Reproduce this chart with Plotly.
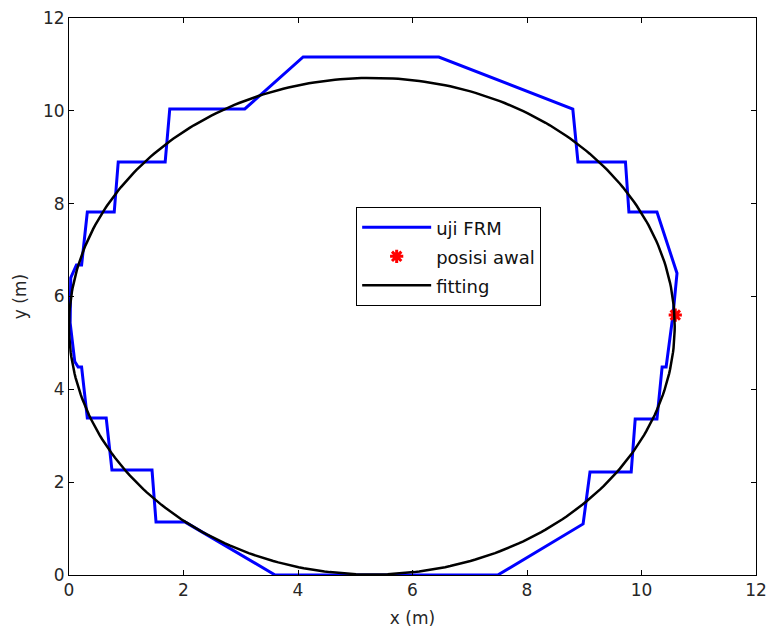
import numpy as np
import plotly.graph_objects as go

# uji FRM path (blue), counter-clockwise from the start point
frm_x = [10.55, 10.62, 10.27, 9.78, 9.72, 8.89, 8.80, 6.46, 4.09, 3.07, 1.76, 1.68,
         0.86, 0.79, 0.32, 0.22, 0.13, 0.03, 0.02, 0.10, 0.16, 0.22, 0.32, 0.65, 0.75,
         1.45, 1.52, 2.03, 3.60, 7.49, 8.98, 9.10, 9.82, 9.89, 10.27, 10.36, 10.43,
         10.50, 10.55]
frm_y = [5.60, 6.50, 7.82, 7.82, 8.90, 8.90, 10.04, 11.16, 11.16, 10.04, 10.04, 8.90,
         8.90, 7.82, 7.82, 6.68, 6.68, 6.40, 5.43, 4.60, 4.48, 4.48, 3.38, 3.38, 2.26,
         2.26, 1.14, 1.14, 0.0, 0.0, 1.10, 2.22, 2.22, 3.36, 3.36, 4.48, 4.48,
         5.20, 5.60]

# posisi awal (start position)
start_x = [10.59]
start_y = [5.60]

# fitted ellipse parameters
fit_cx, fit_cy = 5.29, 5.36
fit_a, fit_b = 5.29, 5.35

t = np.linspace(0, 2 * np.pi, 361)
fit_x = fit_cx + fit_a * np.cos(t)
fit_y = fit_cy + fit_b * np.sin(t)

x_ticks = [0, 2, 4, 6, 8, 10, 12]
y_ticks = [0, 2, 4, 6, 8, 10, 12]

FONT = "DejaVu Sans, Verdana, sans-serif"


def lg(name):
    return '<span style="font-size:18px">' + name + "</span>"


fig = go.Figure()
fig.add_trace(go.Scatter(x=frm_x, y=frm_y, mode="lines", name=lg("uji FRM"),
                         legendrank=1, line=dict(color="#0000ff", width=3)))
fig.add_trace(go.Scatter(x=start_x, y=start_y, mode="markers", name=lg("posisi awal"),
                         legendrank=2,
                         marker=dict(symbol="asterisk-open", size=11, color="red",
                                     line=dict(color="red", width=3))))
fig.add_trace(go.Scatter(x=fit_x, y=fit_y, mode="lines", name=lg("fitting"),
                         legendrank=3, line=dict(color="black", width=2.5)))

axis_common = dict(range=[0, 12], tickmode="array", showgrid=False, zeroline=False,
                   showline=True, linecolor="black", linewidth=1, mirror="ticks",
                   ticks="inside", ticklen=5, tickcolor="black", automargin=False,
                   tickfont=dict(family=FONT, size=17, color="#262626"))

fig.update_xaxes(**axis_common, tickvals=x_ticks, ticktext=[str(v) for v in x_ticks],
                 title=dict(text="x (m)", standoff=12,
                            font=dict(family=FONT, size=17, color="#262626")))
fig.update_yaxes(**axis_common, tickvals=y_ticks, ticktext=[str(v) for v in y_ticks],
                 title=dict(text="y (m)", standoff=12,
                            font=dict(family=FONT, size=17, color="#262626")))

fig.update_layout(
    width=769, height=636,
    margin=dict(l=69, r=13, t=18, b=61),
    plot_bgcolor="white", paper_bgcolor="white",
    showlegend=True,
    legend=dict(x=0.418, y=0.661, xanchor="left", yanchor="top",
                bgcolor="white", bordercolor="black", borderwidth=1,
                itemwidth=69, tracegroupgap=0, traceorder="normal",
                font=dict(family=FONT, size=20, color="#111")),
)

fig.write_html("out.html")
